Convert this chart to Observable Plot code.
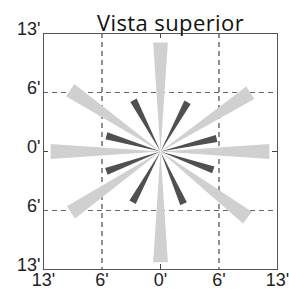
<!DOCTYPE html>
<html><head><meta charset="utf-8">
<script src="https://cdn.jsdelivr.net/npm/d3@7"></script>
<script src="https://cdn.jsdelivr.net/npm/@observablehq/plot@0.6"></script>
<style>
body{margin:0;background:#fff;}
#wrap{position:relative;width:289px;height:289px;}
#title{position:absolute;left:0;top:7px;width:289px;text-align:center;padding-left:52px;box-sizing:border-box;font-family:"Open Sans",sans-serif;font-size:22px;letter-spacing:0.4px;color:#111;line-height:30px;z-index:1;white-space:nowrap;}
</style></head>
<body><div id="wrap"><div id="title">Vista superior</div></div>
<script>
const title = "Vista superior";
const tickValues = [-13, -6.5, 0, 6.5, 13];
const tickLabels = ["13'", "6'", "0'", "6'", "13'"];
const gridValues = [-6.5, 6.5];
const lightAngles = [0, 33, 90, 146, 180, 214, 270, 323];
const lightLengths = [12.1, 11.9, 12.0, 12.1, 12.2, 12.0, 12.2, 12.1];
const darkAngles = [13, 61, 118, 164, 200, 241, 294, 341];
const darkLengths = [6.4, 6.2, 6.4, 6.25, 6.4, 6.4, 6.3, 6.2];
const lightHalfWidth = 0.82, darkHalfWidth = 0.4;

function wedges(angles, lengths, hw, group) {
  const pts = [];
  angles.forEach((a, i) => {
    const r = lengths[i], t = a * Math.PI / 180;
    const dx = Math.cos(t), dy = Math.sin(t), nx = -dy, ny = dx;
    const id = group + i;
    pts.push({x: 0, y: 0, id});
    pts.push({x: r * dx + hw * nx, y: r * dy + hw * ny, id});
    pts.push({x: r * dx - hw * nx, y: r * dy - hw * ny, id});
  });
  return pts;
}
const lightPts = wedges(lightAngles, lightLengths, lightHalfWidth, "L");
const darkPts = wedges(darkAngles, darkLengths, darkHalfWidth, "D");
const fmt = d => tickLabels[tickValues.indexOf(d)];
const tk = 0.55;

const chart = Plot.plot({
  width: 289, height: 289,
  marginLeft: 43, marginRight: 12, marginTop: 33, marginBottom: 20,
  x: {domain: [-13, 13]},
  y: {domain: [-13, 13]},
  style: {fontFamily: "'Liberation Sans', Arial, sans-serif", fontSize: "18px", color: "#222", background: "transparent", overflow: "visible"},
  marks: [
    Plot.ruleX(gridValues, {stroke: "#222", strokeDasharray: "5,4", strokeWidth: 1}),
    Plot.ruleY(gridValues, {stroke: "#666", strokeDasharray: "5,4", strokeWidth: 1}),
    Plot.line(lightPts, {x: "x", y: "y", z: "id", fill: "#d0d0d0", stroke: "none", curve: "linear-closed"}),
    Plot.line(darkPts, {x: "x", y: "y", z: "id", fill: "#505050", stroke: "none", curve: "linear-closed"}),
    Plot.ruleX([0], {y1: -13, y2: -13 + tk, stroke: "#444"}),
    Plot.ruleX([0], {y1: 13, y2: 13 - tk, stroke: "#444"}),
    Plot.ruleY([0], {x1: -13, x2: -13 + tk, stroke: "#444"}),
    Plot.ruleY([0], {x1: 13, x2: 13 - tk, stroke: "#444"}),
    Plot.frame({stroke: "#555"}),
    Plot.axisX(tickValues, {anchor: "bottom", tickSize: 0, tickPadding: 4, tickFormat: fmt, fill: "#222", fontSize: 18, label: null}),
    Plot.axisY(tickValues, {anchor: "left", tickSize: 0, tickPadding: 3, tickFormat: fmt, fill: "#222", fontSize: 18, dy: -4, label: null})
  ]
});
document.getElementById("wrap").appendChild(chart);
document.getElementById("title").textContent = title;
</script></body></html>
